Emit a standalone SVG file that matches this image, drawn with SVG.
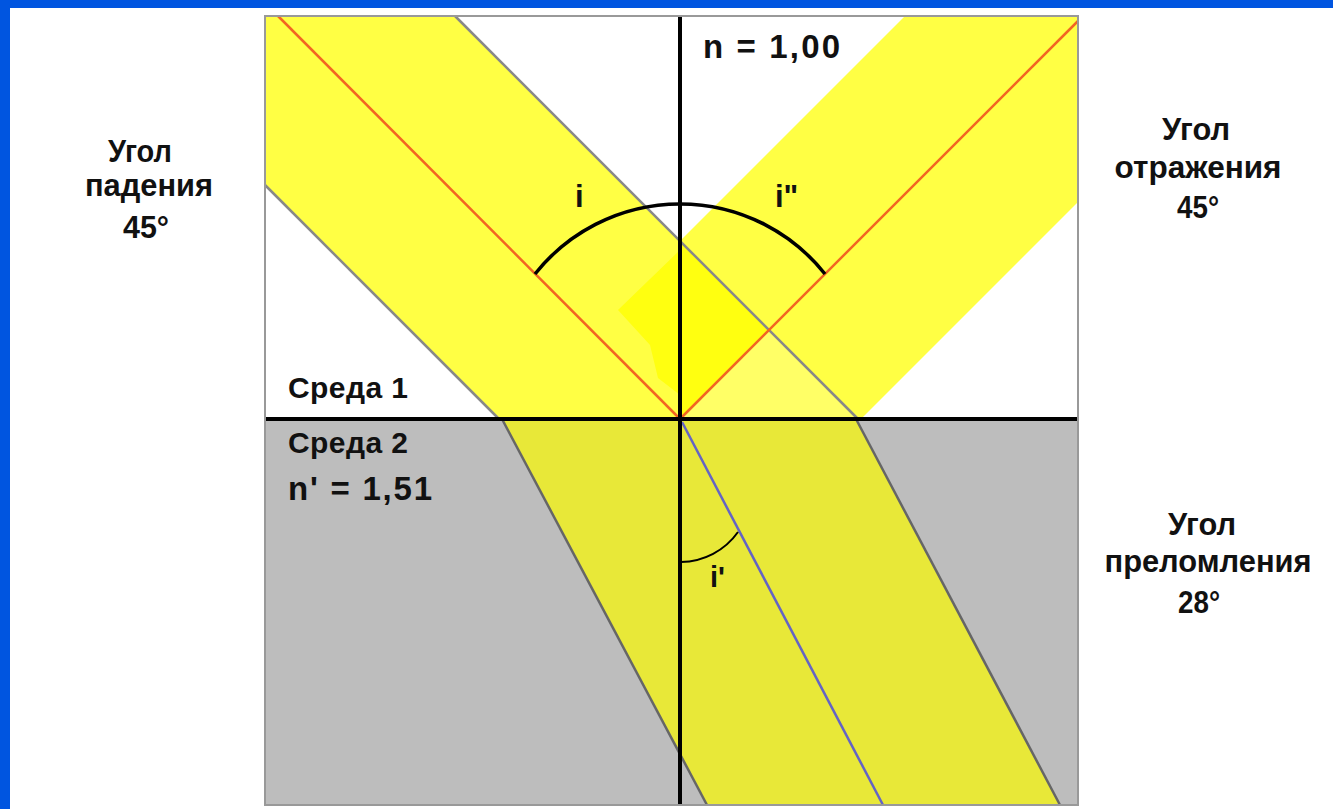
<svg xmlns="http://www.w3.org/2000/svg" width="1333" height="809" viewBox="0 0 1333 809">
<style>
  .lbl { font-family: "Liberation Sans", Arial, sans-serif; font-weight: bold; fill: #111; }
  .big { font-size: 31px; text-anchor: middle; }
  .med { font-size: 30px; }
  .n { font-size: 33px; }
  .edge { stroke: #888; stroke-width: 2.5; fill: none; }
  .edge2 { stroke: #666; stroke-width: 2.5; fill: none; }
  .ray { stroke: #f26522; stroke-width: 2.5; fill: none; }
  .axis { stroke: #000; stroke-width: 4; fill: none; }
</style>
<rect x="0" y="0" width="1333" height="809" fill="#ffffff"/>
<rect x="0" y="0" width="1333" height="8" fill="#0055e0"/>
<rect x="0" y="0" width="10" height="809" fill="#0055e0"/>

<g id="medium1">
  <rect x="265" y="16" width="813" height="403" fill="#ffffff"/>
</g>
<g id="medium2">
  <rect x="265" y="419" width="813" height="386" fill="#bdbdbd"/>
</g>

<g id="incident-beam">
  <polygon points="265,16 455,16 858,419 499,419 265,185" fill="#ffff44"/>
</g>
<g id="reflected-beam">
  <polygon points="905,16 1078,16 1078,202 861,419 502,419" fill="#ffff44"/>
  <polygon points="680,241 769,330 680,419" fill="#ffff10"/>
  <polygon points="680,419 769,330 858,419" fill="#ffff66"/>
  <polygon points="680,250 618,310 650,345 658,378 680,395" fill="#ffff10"/>
</g>
<g id="refracted-beam">
  <polygon points="502,419 856,419 1060,805 707,805" fill="#e8e838"/>
</g>

<g id="connectors">
  <line class="edge" x1="265" y1="185" x2="499" y2="419"/>
  <line class="edge" x1="455" y1="16" x2="858" y2="419"/>
  <line class="edge2" x1="502" y1="419" x2="707" y2="805"/>
  <line class="edge2" x1="856" y1="419" x2="1060" y2="805"/>
  <line class="ray" x1="278" y1="16" x2="680" y2="419"/>
  <line class="ray" x1="680" y1="419" x2="1078" y2="21"/>
  <line x1="682" y1="422" x2="883" y2="805" stroke="#6464c4" stroke-width="2.5"/>
  <line class="axis" x1="265" y1="419" x2="1078" y2="419"/>
  <line class="axis" x1="680" y1="16" x2="680" y2="805"/>
  <path d="M535,274 A185,185 0 0 1 825,274" stroke="#000" stroke-width="3.5" fill="none"/>
  <path d="M681,562 A71,71 0 0 0 738,532" stroke="#000" stroke-width="2" fill="none"/>
</g>

<g id="frame">
  <rect x="265" y="16" width="813" height="789" fill="none" stroke="#999" stroke-width="2"/>
</g>

<g id="labels">
  <text class="lbl n" x="703" y="58" textLength="137">n = 1,00</text>
  <text class="lbl" x="575" y="207" font-size="31">i</text>
  <text class="lbl" x="775" y="207" font-size="31">i"</text>
  <text class="lbl" x="710" y="587" font-size="29">i'</text>
  <text class="lbl med" x="288" y="398" textLength="120">Среда 1</text>
  <text class="lbl med" x="288" y="453" textLength="120">Среда 2</text>
  <text class="lbl n" x="288" y="500" textLength="144">n' = 1,51</text>
</g>

<g id="angle-incidence">
  <text class="lbl big" x="140" y="162" textLength="64" lengthAdjust="spacingAndGlyphs">Угол</text>
  <text class="lbl big" x="149" y="196" textLength="128" lengthAdjust="spacingAndGlyphs">падения</text>
  <text class="lbl big" x="146" y="238" textLength="46" lengthAdjust="spacingAndGlyphs">45°</text>
</g>
<g id="angle-reflection">
  <text class="lbl big" x="1196" y="140" textLength="68" lengthAdjust="spacingAndGlyphs">Угол</text>
  <text class="lbl big" x="1198" y="178" textLength="167" lengthAdjust="spacingAndGlyphs">отражения</text>
  <text class="lbl big" x="1198" y="218" textLength="42" lengthAdjust="spacingAndGlyphs">45°</text>
</g>
<g id="angle-refraction">
  <text class="lbl big" x="1202" y="535" textLength="68" lengthAdjust="spacingAndGlyphs">Угол</text>
  <text class="lbl big" x="1208" y="572" textLength="207" lengthAdjust="spacingAndGlyphs">преломления</text>
  <text class="lbl big" x="1199" y="613" textLength="42" lengthAdjust="spacingAndGlyphs">28°</text>
</g>
</svg>
